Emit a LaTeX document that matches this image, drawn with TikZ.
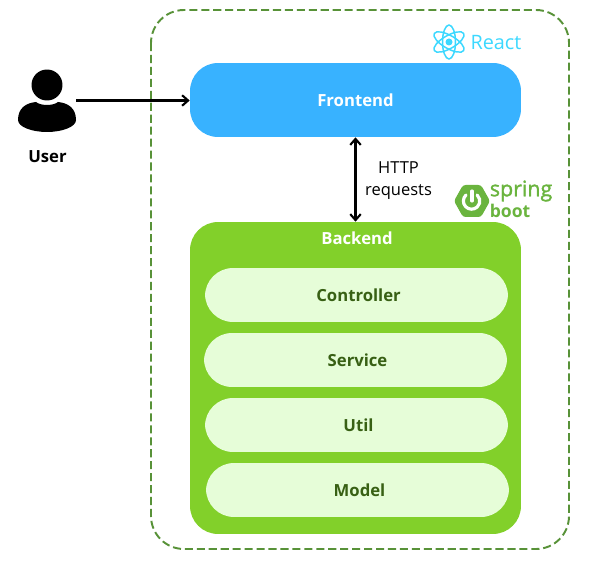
\documentclass[tikz,border=0pt]{standalone}
\usepackage{xcolor}
\usepackage{fontspec}
\setmainfont{Open Sans}
\newfontfamily\springfont[FakeBold=1.5]{Open Sans}
\usetikzlibrary{arrows.meta}
\definecolor{frontblue}{RGB}{56,178,255}
\definecolor{backgreen}{RGB}{130,208,42}
\definecolor{layerfill}{RGB}{230,253,216}
\definecolor{layertext}{RGB}{56,96,20}
\definecolor{outergreen}{RGB}{88,146,56}
\definecolor{reactcyan}{RGB}{60,216,255}
\definecolor{springgreen}{RGB}{106,180,62}
\tikzset{
  block/.style={rounded corners=0.56cm,inner sep=0pt,font=\bfseries\fontsize{9.5}{11}\selectfont},
  layer/.style={block,fill=layerfill,text=layertext,minimum width=6.06cm,minimum height=1.08cm,execute at begin node=\hspace*{2.3pt}},
  link/.style={line width=1.2pt,-{Straight Barb[length=3.4pt,width=6pt]}}
}
\begin{document}
\begin{tikzpicture}[x=0.02cm,y=-0.02cm]
\useasboundingbox (0,0) rectangle (592,564);
% system border
\draw[outergreen,line width=1.1pt,dash pattern=on 4.6pt off 2.2pt,rounded corners=0.66cm] (151,10) rectangle (569,549);
% user
\node[circle,fill=black,minimum size=0.62cm,inner sep=0pt] (head) at (47,85) {};
\fill (18,120) .. controls (18,108) and (26,103) .. (36,102) .. controls (41,106) and (53,106) .. (58,102) .. controls (68,103) and (76,108) .. (76,120) .. controls (76,127) and (62,132) .. (47,132) .. controls (32,132) and (18,127) .. (18,120) -- cycle;
\coordinate (body) at (76,100.5);
\node[font=\bfseries\fontsize{9.5}{11}\selectfont] (user) at (47.5,156.5) {User};
% blocks
\node[block,fill=frontblue,text=white,minimum width=6.62cm,minimum height=1.48cm] (frontend) at (355.5,100) {Frontend};
\node[block,fill=backgreen,minimum width=6.62cm,minimum height=6.24cm] (backend) at (355.5,378) {};
\node[font=\bfseries\fontsize{9.5}{11}\selectfont,text=white] (backlabel) at (357,238.5) {Backend};
\node[layer] (controller) at (356.5,295) {Controller};
\node[layer] (service) at (355.5,360) {Service};
\node[layer] (util) at (356.5,425) {Util};
\node[layer] (model) at (357.5,490) {Model};
% links
\draw[link] (body) -- (frontend.west |- body);
\draw[link,{Straight Barb[length=3.4pt,width=6pt]}-{Straight Barb[length=3.4pt,width=6pt]}] (frontend.south) -- (backend.north);
\node[align=center,font=\fontsize{9.4}{12.5}\selectfont] (http) at (398.5,180.5) {HTTP\\requests};
% react logo
\foreach \ang in {30,90,150}
  \draw[reactcyan,line width=0.85pt,rotate around={\ang:(449,42)}] (449,42) ellipse (0.34cm and 0.13cm);
\node[circle,fill=reactcyan,minimum size=0.14cm,inner sep=0pt] (atom) at (449,42) {};
\node[reactcyan,font=\fontsize{11.3}{12}\selectfont] (react) at (496,43) {React};
% spring boot logo
\fill[springgreen,rounded corners=1.5pt] (454,201) -- (463,185) -- (481,185) -- (490,201) -- (481,217) -- (463,217) -- cycle;
\draw[white,line width=1.8pt,line cap=round] (466,195) arc (-133:-407:8.2);
\draw[white,line width=1.8pt,line cap=round] (472,191) -- (472,201);
\node[springgreen,font=\springfont\fontsize{12.2}{12}\selectfont,inner sep=0pt,anchor=west] (spring) at (489.5,191) {spring};
\node[springgreen,font=\bfseries\fontsize{10}{9}\selectfont,inner sep=0pt,anchor=west] (boot) at (489.5,211) {boot};
\end{tikzpicture}
\end{document}
